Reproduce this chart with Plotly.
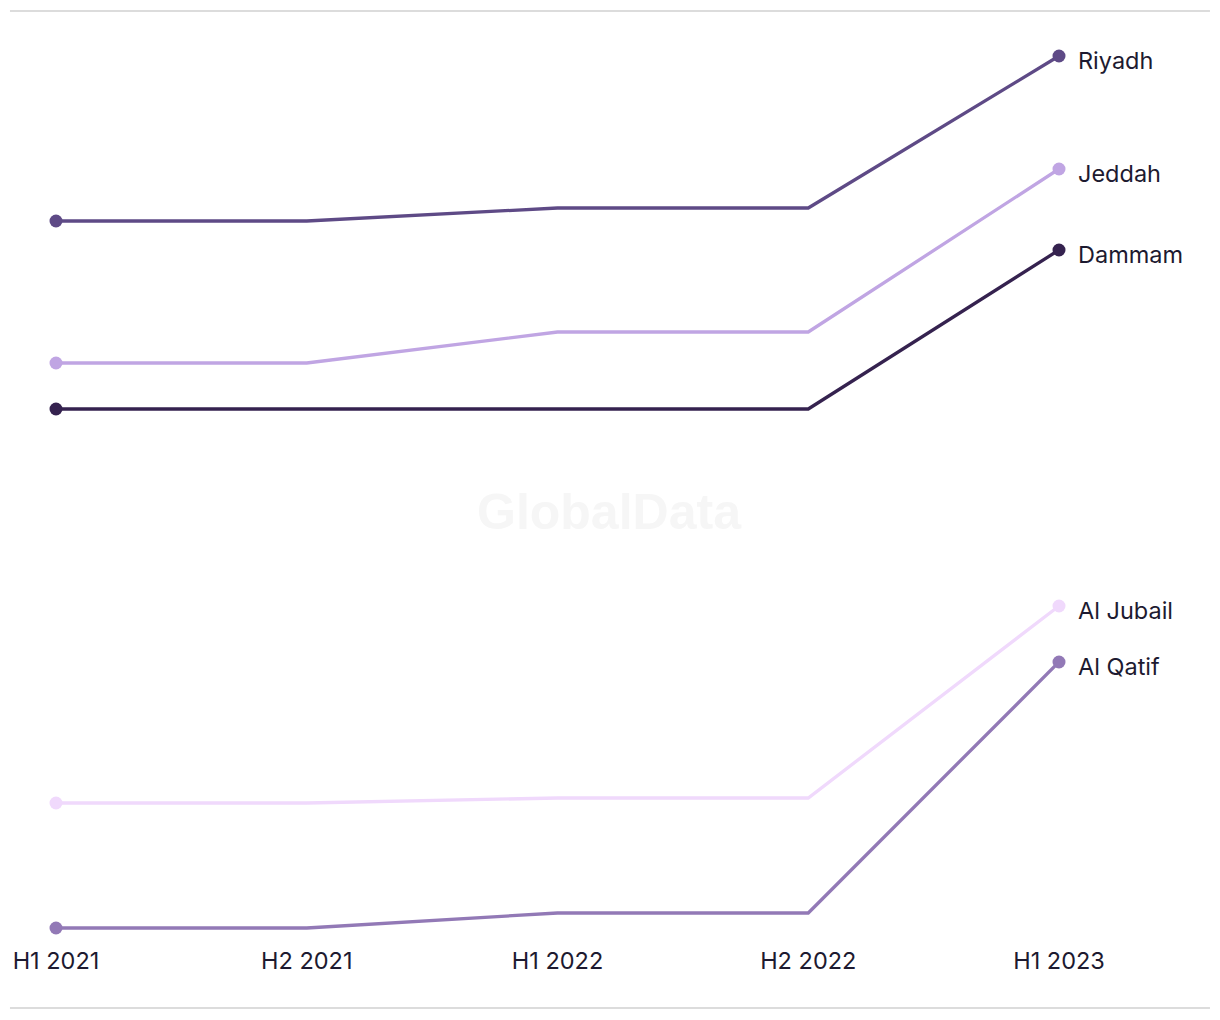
import plotly.graph_objects as go

periods = ["H1 2021", "H2 2021", "H1 2022", "H2 2022", "H1 2023"]
cities = ["Riyadh", "Jeddah", "Dammam", "Al Jubail", "Al Qatif"]
riyadh = [77.9, 77.9, 79.2, 79.2, 94.4]
jeddah = [63.7, 63.7, 66.8, 66.8, 83.1]
dammam = [59.1, 59.1, 59.1, 59.1, 75.0]
al_jubail = [19.7, 19.7, 20.2, 20.2, 39.4]
al_qatif = [7.2, 7.2, 8.7, 8.7, 33.8]
series = [riyadh, jeddah, dammam, al_jubail, al_qatif]
colors = ["#5e4a86", "#c0a5e3", "#35224f", "#f0d9fc", "#9279b6"]

FONT = "Inter, Noto Sans, sans-serif"
TEXT = "#1d1a30"

fig = go.Figure()
xs = list(range(len(periods)))
for name, vals, c in zip(cities, series, colors):
    fig.add_trace(go.Scatter(
        x=xs, y=vals, mode="lines", name=name,
        line=dict(color=c, width=3.3), hoverinfo="skip", cliponaxis=False,
    ))
    fig.add_trace(go.Scatter(
        x=[xs[0], xs[-1]], y=[vals[0], vals[-1]], mode="markers",
        marker=dict(color=c, size=13), hoverinfo="skip", cliponaxis=False,
        showlegend=False,
    ))
    fig.add_annotation(x=xs[-1], y=vals[-1], text=name, showarrow=False,
                       xanchor="left", yanchor="middle", xshift=17, yshift=-4,
                       font=dict(family=FONT, size=23.5, color=TEXT))

fig.add_annotation(x=0.5, y=0.5, xref="paper", yref="paper", text="<b>GlobalData</b>",
                   showarrow=False, xshift=52, yshift=-20,
                   font=dict(family="Liberation Sans, Arial, sans-serif", size=50, color="#f6f6f6"))

for yp in [1.0392, -0.0785]:
    fig.add_shape(type="line", xref="paper", yref="paper", x0=-0.0459, x1=1.1505,
                  y0=yp, y1=yp, line=dict(color="#dcdcdc", width=2), layer="below")

fig.update_layout(
    width=1220, height=1020,
    margin=dict(l=56, r=161, t=46, b=82),
    plot_bgcolor="white", paper_bgcolor="white",
    showlegend=False,
    xaxis=dict(range=[0, 4], tickvals=xs, ticktext=periods, showgrid=False,
               zeroline=False, showline=False, ticks="", ticklabelstandoff=6,
               tickfont=dict(family=FONT, size=23.5, color=TEXT)),
    yaxis=dict(range=[6.2, 95.4], visible=False, showgrid=False, zeroline=False),
)
fig.write_html("out.html")
